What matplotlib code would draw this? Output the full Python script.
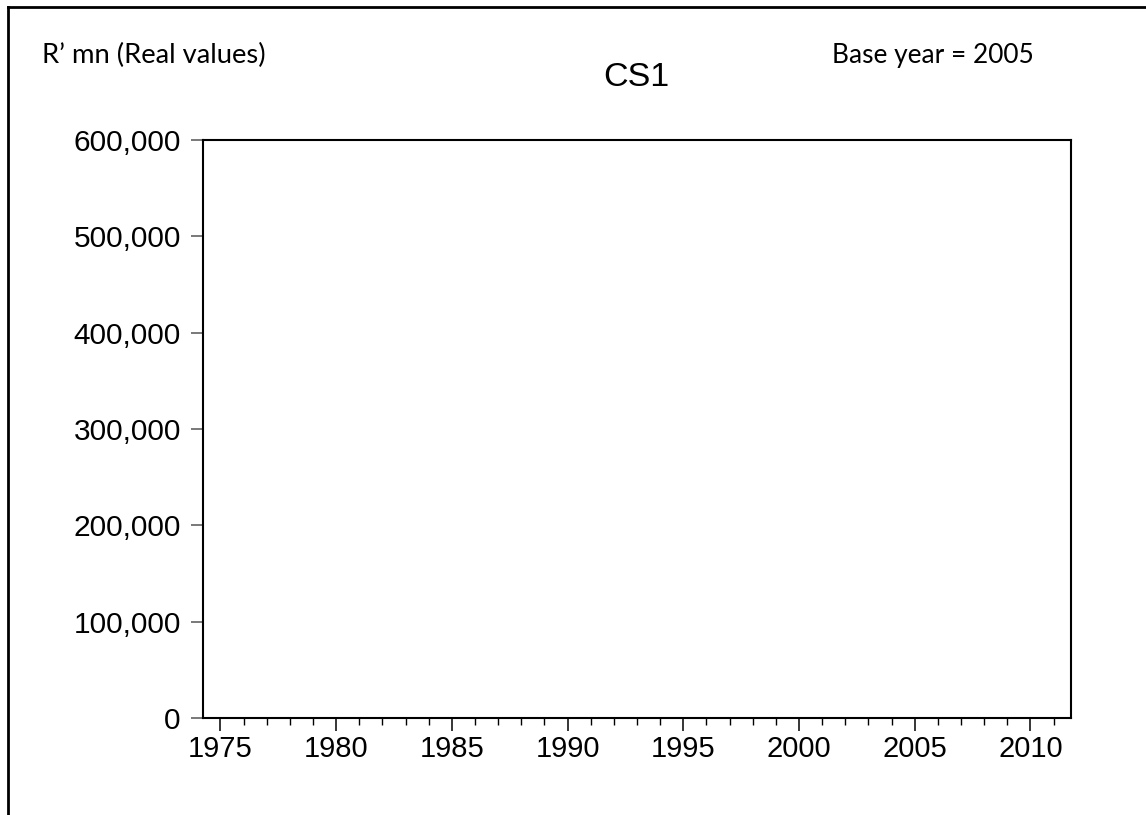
import matplotlib
matplotlib.use("Agg")
import matplotlib.pyplot as plt
from matplotlib.ticker import FuncFormatter, MultipleLocator
from matplotlib.lines import Line2D

# Data (the series is empty in the reference chart)
years = []
values = []
series_name = "CS1"
x_major_ticks = [1975, 1980, 1985, 1990, 1995, 2000, 2005, 2010]
y_ticks = [0, 100000, 200000, 300000, 400000, 500000, 600000]
unit_note = "R\u2019 mn (Real values)"
base_note = "Base year = 2005"

W, H = 1146, 815
fig = plt.figure(figsize=(W / 100, H / 100), dpi=100)
fig.patch.set_facecolor("white")

left, right, top, bottom = 203, 1071, 140, 718
ax = fig.add_axes([left / W, 1 - bottom / H, (right - left) / W, (bottom - top) / H])

ax.plot(years, values, color="blue", linewidth=1.5)
ax.set_xlim(1974.25, 2011.75)
ax.set_ylim(0, 600000)

ax.set_xticks(x_major_ticks)
ax.xaxis.set_minor_locator(MultipleLocator(1))
ax.set_yticks(y_ticks)
ax.yaxis.set_major_formatter(FuncFormatter(lambda v, p: f"{int(v):,}"))

for s in ax.spines.values():
    s.set_linewidth(1.5)
    s.set_color("black")

label_font = "Liberation Sans"
ax.tick_params(axis="x", which="major", direction="out", length=9, width=1.1,
               pad=3, labelsize=21, color="black")
ax.tick_params(axis="x", which="minor", direction="out", length=5, width=1.0, color="black")
ax.tick_params(axis="y", which="major", direction="out", length=9, width=1.1,
               pad=7, labelsize=21.5, color="#555555")
for lab in ax.get_xticklabels() + ax.get_yticklabels():
    lab.set_fontfamily(label_font)

fig.text(636 / W, 1 - 78 / H, series_name, ha="center", va="center",
         fontsize=24.5, family=label_font)

fig.text(42 / W, 1 - 63 / H, unit_note, ha="left", va="baseline",
         fontsize=19.7, family="Lato")
fig.text(832 / W, 1 - 63 / H, base_note, ha="left", va="baseline",
         fontsize=18.9, family="Lato")

# outer frame lines (top and left)
fig.add_artist(Line2D([8 / W, 1.0], [1 - 7 / H, 1 - 7 / H], color="black",
                      linewidth=2, transform=fig.transFigure))
fig.add_artist(Line2D([8 / W, 8 / W], [1 - 7 / H, 0.0], color="black",
                      linewidth=2, transform=fig.transFigure))

fig.savefig("out.png", dpi=100, facecolor="white")
